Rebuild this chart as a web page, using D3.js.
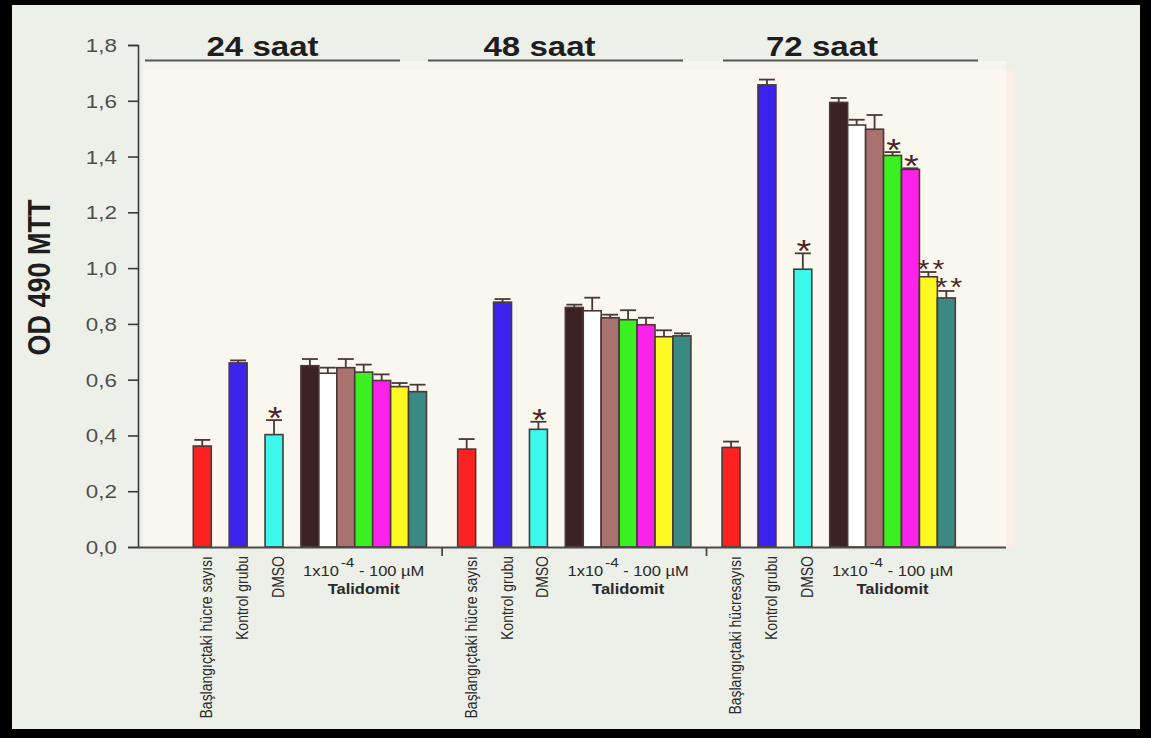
<!DOCTYPE html>
<html>
<head>
<meta charset="utf-8">
<script src="https://cdn.jsdelivr.net/npm/d3@7"></script>
<style>
  html, body { margin: 0; padding: 0; background: #000; }
  svg { display: block; font-family: "Liberation Sans", Arial, Helvetica, sans-serif; }
</style>
</head>
<body>
<svg id="chart" width="1151" height="738"></svg>
<script>
// ---- data -------------------------------------------------------------
const groups = ["24 saat", "48 saat", "72 saat"];
// baseline count, control, DMSO, then thalidomide doses 1x10^-4 ... 100 µM
const treatments = ["baslangic", "kontrol", "DMSO", "1e-4", "1e-3", "1e-2", "1e-1", "1", "10", "100"];

const values24 = [0.362, 0.660, 0.403, 0.650, 0.623, 0.643, 0.627, 0.597, 0.575, 0.557];
const errors24 = [0.022, 0.009, 0.052, 0.024, 0.020, 0.031, 0.027, 0.022, 0.013, 0.025];
const marks24  = ["", "", "*", "", "", "", "", "", "", ""];

const values48 = [0.351, 0.878, 0.422, 0.859, 0.847, 0.822, 0.815, 0.797, 0.754, 0.757];
const errors48 = [0.036, 0.011, 0.027, 0.010, 0.047, 0.011, 0.034, 0.025, 0.023, 0.009];
const marks48  = ["", "", "*", "", "", "", "", "", "", ""];

const values72 = [0.357, 1.657, 0.996, 1.594, 1.513, 1.498, 1.404, 1.354, 0.969, 0.893];
const errors72 = [0.021, 0.019, 0.057, 0.016, 0.019, 0.051, 0.012, 0.004, 0.017, 0.025];
const marks72  = ["", "", "*", "", "", "", "*", "*", "**", "**"];

const controlLabels24 = ["Başlangıçtaki hücre sayısı", "Kontrol grubu", "DMSO"];
const controlLabels48 = ["Başlangıçtaki hücre sayısı", "Kontrol grubu", "DMSO"];
const controlLabels72 = ["Başlangıçtaki hücresayısı", "Kontrol grubu", "DMSO"];
const doseRangeLabel = ["1x10", "-4", " - 100 µM"];
const drugLabel = "Talidomit";

const yTicks = [0, 0.2, 0.4, 0.6, 0.8, 1.0, 1.2, 1.4, 1.6, 1.8];
const yTickLabels = ["0,0", "0,2", "0,4", "0,6", "0,8", "1,0", "1,2", "1,4", "1,6", "1,8"];
const yTitle = "OD 490 MTT";

const seriesValues = [values24, values48, values72];
const seriesErrors = [errors24, errors48, errors72];
const seriesMarks  = [marks24, marks48, marks72];
const seriesLabels = [controlLabels24, controlLabels48, controlLabels72];

// ---- styling / layout -------------------------------------------------
const colors = ["#fc2222", "#3b22ec", "#3cf8ea", "#3c2222", "#ffffff",
                "#a8726e", "#3af022", "#fc22ea", "#fcf822", "#3a8a84"];
const slotOf = [0, 2, 4, 6, 7, 8, 9, 10, 11, 12];   // bar slot inside a group
const SX = 1.18;                                    // horizontal text stretch
const ink = "#4a3838";
const titleCenters = [262.5, 539.5, 822];
const titleLineStarts = [145, 428, 723];
const titleLineLength = 255;

const svg = d3.select("#chart");

// frame + backgrounds
svg.append("rect").attr("width", 1151).attr("height", 738).attr("fill", "#000");
svg.append("rect").attr("x", 12).attr("y", 5).attr("width", 1128).attr("height", 724).attr("fill", "#edf0e8");
svg.append("rect").attr("x", 143).attr("y", 61).attr("width", 863).attr("height", 486).attr("fill", "#faf8ee");
svg.append("rect").attr("x", 143).attr("y", 61).attr("width", 863).attr("height", 8).attr("fill", "#f5f5ee");
svg.append("rect").attr("x", 1006).attr("y", 69).attr("width", 9).attr("height", 478).attr("fill", "#f9efe6");

// scales
const y = d3.scaleLinear().domain([0, 1.8]).range([547, 45]);
const gx = d3.scaleBand().domain(groups).range([193.3, 955.3]).paddingInner(0.118).paddingOuter(0);
const sx = d3.scaleBand().domain(d3.range(13)).range([0, gx.bandwidth()]).padding(0);
const bw = sx.bandwidth();

// y axis
const yAxis = d3.axisLeft(y).tickValues(yTicks)
  .tickFormat((d, i) => yTickLabels[i]).tickSize(10).tickSizeOuter(10);
const ya = svg.append("g").attr("transform", "translate(138,0)").call(yAxis);
ya.select(".domain").attr("stroke", "#3a3a3a").attr("stroke-width", 1.6);
ya.selectAll(".tick line").attr("stroke", "#3a3a3a").attr("stroke-width", 1.6);
ya.selectAll(".tick text")
  .attr("font-size", 19).attr("fill", "#4e4e4e")
  .attr("font-family", "Liberation Sans, Arial, sans-serif")
  .attr("x", -21 / SX).attr("dy", "0.34em")
  .attr("transform", `scale(${SX},1)`);

// y title
svg.append("text")
  .attr("transform", `translate(50,277.5) scale(${SX},1) rotate(-90)`)
  .attr("text-anchor", "middle").attr("font-size", 27).attr("font-weight", "bold")
  .attr("fill", "#1e1e1e").text(yTitle);

// group headers
groups.forEach((g, gi) => {
  svg.append("text")
    .attr("transform", `translate(${titleCenters[gi]},56) scale(${SX},1)`)
    .attr("text-anchor", "middle").attr("font-size", 28).attr("font-weight", "bold")
    .attr("fill", "#1e1e1e").text(g);
  svg.append("line")
    .attr("x1", titleLineStarts[gi]).attr("x2", titleLineStarts[gi] + titleLineLength)
    .attr("y1", 60.5).attr("y2", 60.5)
    .attr("stroke", "#555").attr("stroke-width", 2);
});

// bars, error bars and significance marks
const rows = [];
groups.forEach((g, gi) => {
  treatments.forEach((t, i) => {
    rows.push({ group: g, gi, i, value: seriesValues[gi][i], err: seriesErrors[gi][i],
                mark: seriesMarks[gi][i], x: gx(g) + sx(slotOf[i]) });
  });
});

const barG = svg.append("g");
barG.selectAll("rect").data(rows).join("rect")
  .attr("x", d => d.x).attr("width", bw)
  .attr("y", d => y(d.value)).attr("height", d => y(0) - y(d.value))
  .attr("fill", d => colors[d.i])
  .attr("stroke", ink).attr("stroke-width", 1.6);

const errG = svg.append("g").attr("stroke", ink).attr("stroke-width", 1.8);
errG.selectAll("line.v").data(rows).join("line").attr("class", "v")
  .attr("x1", d => d.x + bw / 2).attr("x2", d => d.x + bw / 2)
  .attr("y1", d => y(d.value)).attr("y2", d => y(d.value + d.err));
errG.selectAll("line.c").data(rows).join("line").attr("class", "c")
  .attr("x1", d => d.x + 1).attr("x2", d => d.x + bw - 1)
  .attr("y1", d => y(d.value + d.err)).attr("y2", d => y(d.value + d.err));

svg.append("g").selectAll("text").data(rows.filter(d => d.mark)).join("text")
  .attr("transform", d => {
    const big = d.mark.length === 1;
    const cy = y(d.value + d.err) - 9 + (big ? 18 : 14.5);
    return `translate(${d.x + bw / 2 + (big ? 1 : 4)},${cy}) scale(${SX},1)`;
  })
  .attr("text-anchor", "middle")
  .attr("font-size", d => d.mark.length === 1 ? 32 : 26)
  .attr("letter-spacing", d => d.mark.length === 1 ? 0 : 2.5)
  .attr("fill", "#4a2626")
  .text(d => d.mark);

// x axis line and group separators
svg.append("line").attr("x1", 138).attr("x2", 1006).attr("y1", 547.5).attr("y2", 547.5)
  .attr("stroke", "#4a4a4a").attr("stroke-width", 2);
groups.slice(1).forEach((g, k) => {
  const prevEnd = gx(groups[k]) + gx.bandwidth();
  const xm = (prevEnd + gx(g)) / 2;
  svg.append("line").attr("x1", xm).attr("x2", xm).attr("y1", 547).attr("y2", 556)
    .attr("stroke", "#4a4a4a").attr("stroke-width", 1.8);
});

// category labels under each group
groups.forEach((g, gi) => {
  seriesLabels[gi].forEach((lab, i) => {
    const cx = gx(g) + sx(slotOf[i]) + bw / 2 + 10;
    svg.append("text")
      .attr("transform", `translate(${cx},556) scale(${SX},1) rotate(-90)`)
      .attr("text-anchor", "end").attr("font-size", 14).attr("fill", "#2a2a2a")
      .text(lab);
  });
  const x0 = gx(g) + sx(slotOf[3]);
  const x1 = gx(g) + sx(slotOf[9]) + bw;
  const cx = (x0 + x1) / 2;
  const t = svg.append("text")
    .attr("transform", `translate(${cx},576) scale(${SX},1)`)
    .attr("text-anchor", "middle").attr("font-size", 14).attr("fill", "#2a2a2a");
  t.append("tspan").text(doseRangeLabel[0]);
  t.append("tspan").attr("dy", -9).attr("dx", 1.5).attr("font-size", 13).text(doseRangeLabel[1]);
  t.append("tspan").attr("dy", 9).text(doseRangeLabel[2]);
  svg.append("text")
    .attr("transform", `translate(${cx},594) scale(${SX},1)`)
    .attr("text-anchor", "middle").attr("font-size", 14).attr("font-weight", "bold")
    .attr("fill", "#2a2a2a").text(drugLabel);
});
</script>
</body>
</html>
